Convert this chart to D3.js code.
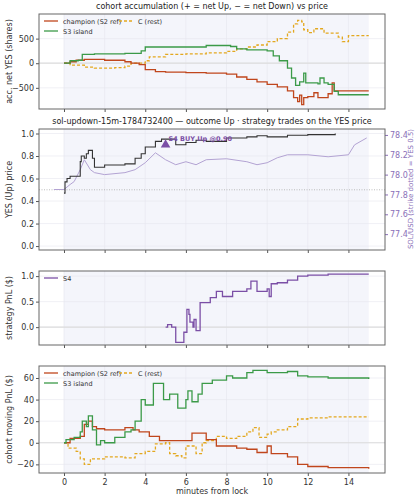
<!DOCTYPE html><html><head><meta charset="utf-8">
<script src="https://cdn.jsdelivr.net/npm/d3@7"></script>
<style>body{margin:0;background:#fff}text{font-family:"DejaVu Sans",sans-serif}</style></head><body>
<svg id="c" width="419" height="500"></svg>
<script>
const accChampion=[[0,0],[0.3,30],[0.6,60],[1,80],[2,60],[3,30],[3.3,0],[3.7,-30],[4,-130],[4.5,-170],[5,-180],[6,-190],[7,-200],[8,-220],[8.5,-280],[9,-330],[9.5,-380],[10,-430],[10.5,-480],[11,-560],[11.3,-700],[11.5,-780],[11.6,-650],[11.7,-840],[11.8,-700],[12,-680],[12.3,-600],[12.5,-700],[13,-620],[13.2,-400],[13.3,-560],[15,-560]];
const accS3=[[0,0],[0.3,50],[0.7,60],[0.9,180],[1.5,190],[3,200],[3.8,250],[4,330],[5,330],[7,360],[8.2,340],[8.5,290],[9,270],[10,250],[10.3,150],[10.6,50],[11,-100],[11.2,-300],[11.4,-450],[11.6,-380],[11.8,-200],[11.9,-400],[12.5,-420],[12.6,-300],[12.8,-400],[13,-430],[13.3,-570],[13.5,-640],[15,-640]];
const accC=[[0,0],[0.3,-40],[1,-80],[1.5,-100],[2.5,-90],[3,-60],[3.3,0],[4,50],[4.2,130],[5,180],[6,190],[7,210],[8,240],[8.5,290],[9,330],[9.5,370],[10,440],[10.5,500],[11,630],[11.3,800],[11.5,870],[11.7,840],[11.8,680],[12,620],[12.3,700],[12.8,610],[13.5,530],[13.7,440],[14,560],[15,560]];
const yesPrice=[[0,0.47],[0.05,0.57],[0.15,0.6],[0.3,0.62],[0.8,0.75],[0.85,0.8],[1,0.78],[1.1,0.82],[1.2,0.85],[1.4,0.78],[1.5,0.7],[2,0.72],[3,0.73],[3.5,0.78],[3.8,0.82],[4,0.88],[4.5,0.93],[4.8,0.95],[5.5,0.9],[6,0.92],[6.5,0.94],[7,0.93],[8,0.96],[9,0.97],[9.5,0.98],[10,0.97],[11,0.985],[12,0.99],[13.35,1.0]];
const solPrice=[[-0.5,77.85],[0,77.85],[0.3,77.9],[0.5,77.93],[0.8,78.05],[1,78.15],[1.3,78.05],[1.5,78.02],[2,78.0],[3,78.02],[3.5,78.05],[4,78.12],[4.5,78.22],[5,78.15],[5.5,78.1],[6,78.13],[6.5,78.1],[7,78.15],[8,78.16],[9,78.13],[9.5,78.1],[10,78.12],[10.5,78.17],[11,78.2],[12,78.2],[13,78.18],[14,78.2],[14.3,78.3],[14.9,78.37]];
const trades=[{t:5.0,p:0.90,label:"S4 BUY Up @0.90"}];
const pnlS4=[[5,0],[5.1,0.05],[5.3,0],[5.5,-0.3],[5.9,-0.1],[6.05,0.35],[6.15,0.25],[6.2,0.1],[6.35,0],[6.4,0.15],[6.5,-0.07],[6.7,0.48],[7.2,0.58],[7.5,0.7],[7.8,0.6],[8.3,0.7],[9,0.75],[9.2,0.9],[9.5,0.7],[10,0.75],[10.1,0.6],[10.2,0.85],[10.5,0.87],[11,0.92],[11.5,1.0],[12,1.02],[13,1.04],[15,1.04]];
const movS3=[[0,0],[0.1,3],[0.5,5],[0.8,10],[0.9,20],[1.1,15],[1.2,25],[1.4,12],[1.6,-2],[1.8,2],[2,0],[2.5,5],[3,10],[3.3,12],[3.5,20],[3.8,40],[4,35],[4.4,55],[4.9,40],[5.2,45],[5.6,32],[6,40],[6.1,48],[6.3,38],[6.6,45],[6.8,55],[7.3,58],[8,62],[8.3,60],[9,65],[9.3,67],[10,65],[11,66],[11.5,62],[12,61],[13,60],[15,59]];
const movChampion=[[0,0],[0.3,4],[0.8,6],[1,17],[1.2,20],[1.4,15],[1.6,13],[2,12],[3,14],[3.4,12],[3.7,10],[4.2,6],[4.7,2],[6.3,9],[7,3],[7.5,-3],[8.5,-5],[9,-6],[9.5,-9],[10,-3],[10.2,-10],[11,-13],[11.5,-20],[12,-22],[13,-23],[15,-24]];
const movC=[[0,0],[0.2,-5],[0.6,-8],[0.8,-15],[1,-20],[1.3,-15],[2,-13],[3,-14],[3.5,-10],[4,-8],[4.5,-1],[5,0],[5.2,-10],[5.5,-12],[5.8,-14],[6,-3],[6.5,-10],[6.8,0],[7,2],[7.5,6],[8,4],[8.5,6],[9,10],[9.3,14],[9.6,5],[10,8],[10.2,10],[10.5,12],[11,15],[11.5,22],[12,23],[13,24],[15,24]];
const xTicks=[0,2,4,6,8,10,12,14];

const RED="#c0461c",GREEN="#3b9a48",ORANGE="#e3a81f",PURPLE="#7b4fa6",LPURP="#b3a3d3";
const svg=d3.select("#c");
const L=39,R=385;
const x=d3.scaleLinear().domain([-1.23,15.8]).range([L,R]);
const line=(xs,ys)=>d3.line().x(d=>xs(d[0])).y(d=>ys(d[1])).curve(d3.curveStepAfter);

function panel(top,bot,dom,ticks,fmt,ylabel,showX){
  const y=d3.scaleLinear().domain(dom).range([bot,top]);
  const g=svg.append("g");
  g.append("rect").attr("x",x(0)).attr("width",x(15)-x(0)).attr("y",top).attr("height",bot-top).attr("fill","#f4f5fb");
  xTicks.forEach(t=>g.append("line").attr("x1",x(t)).attr("x2",x(t)).attr("y1",top).attr("y2",bot).attr("stroke","#e6e6ee").attr("stroke-width",0.6));
  ticks.forEach(t=>g.append("line").attr("x1",L).attr("x2",R).attr("y1",y(t)).attr("y2",y(t)).attr("stroke","#e6e6ee").attr("stroke-width",0.6));
  const ax=g.append("g").attr("transform",`translate(${L},0)`).call(d3.axisLeft(y).tickValues(ticks).tickFormat(fmt).tickSize(3).tickPadding(2));
  ax.select(".domain").remove();
  ax.selectAll("text").attr("font-size",8).attr("fill","#333").text(function(){return this.textContent.replace("-","−")});
  ax.selectAll("line").attr("stroke","#555");
  const xa=g.append("g").attr("transform",`translate(0,${bot})`).call(d3.axisBottom(x).tickValues(xTicks).tickSize(3).tickFormat(showX?d3.format("d"):""));
  xa.select(".domain").remove();xa.selectAll("line").attr("stroke","#555");
  xa.selectAll("text").attr("font-size",8).attr("fill","#333");
  g.append("text").attr("transform",`translate(${L-27},${(top+bot)/2}) rotate(-90)`).attr("text-anchor","middle").attr("font-size",8).attr("fill","#333").text(ylabel);
  return {g,y,top,bot};
}
function frame(p){p.g.append("rect").attr("x",L).attr("y",p.top).attr("width",R-L).attr("height",p.bot-p.top).attr("fill","none").attr("stroke","#666").attr("stroke-width",1);}
function zero(p){p.g.append("line").attr("x1",L).attr("x2",R).attr("y1",p.y(0)).attr("y2",p.y(0)).attr("stroke","#ddd").attr("stroke-width",1.2);}
function path(p,d,c,dash,w){p.g.append("path").attr("d",line(x,p.y)(d)).attr("fill","none").attr("stroke",c).attr("stroke-width",w||1.3).attr("stroke-dasharray",dash||null);}
function legend(p,items,ox,oy){items.forEach((it,i)=>{const cx=ox+it.col*75, cy=oy+it.row*10;
  p.g.append("line").attr("x1",cx).attr("x2",cx+14).attr("y1",cy).attr("y2",cy).attr("stroke",it.c).attr("stroke-width",1.3).attr("stroke-dasharray",it.dash||null);
  p.g.append("text").attr("x",cx+19).attr("y",cy+2.5).attr("font-size",6.5).attr("fill","#333").text(it.t);});}
function title(t,yy){svg.append("text").attr("x",(L+R)/2).attr("y",yy).attr("text-anchor","middle").attr("font-size",8).attr("fill","#222").text(t);}

// panel 1
const p1=panel(14,109,[-930,1000],[-500,0,500],d3.format("d"),"acc. net YES (shares)",false);
zero(p1);
path(p1,accC,ORANGE,"3,2");path(p1,accChampion,RED);path(p1,accS3,GREEN);
frame(p1);
legend(p1,[{t:"champion (S2 ref)",c:RED,col:0,row:0},{t:"C (rest)",c:ORANGE,dash:"3,2",col:1,row:0},{t:"S3 island",c:GREEN,col:0,row:1}],44,21);
title("cohort accumulation (+ = net Up, − = net Down) vs price",9);

// panel 2
const p2=panel(129,250,[-0.035,1.04],[0,0.2,0.4,0.6,0.8,1.0],d3.format(".1f"),"YES (Up) price",false);
const y2r=d3.scaleLinear().domain([77.24,78.46]).range([250,129]);
p2.g.append("line").attr("x1",L).attr("x2",R).attr("y1",p2.y(0.5)).attr("y2",p2.y(0.5)).attr("stroke","#aaa").attr("stroke-width",0.8).attr("stroke-dasharray","1,1.5");
p2.g.append("path").attr("d",d3.line().x(d=>x(d[0])).y(d=>y2r(d[1]))(solPrice)).attr("fill","none").attr("stroke",LPURP).attr("stroke-width",1);
path(p2,yesPrice,"#333",null,1.1);
trades.forEach(tr=>{p2.g.append("path").attr("d",d3.symbol(d3.symbolTriangle,40)()).attr("transform",`translate(${x(tr.t)},${p2.y(tr.p)})`).attr("fill",PURPLE);
 p2.g.append("text").attr("x",x(tr.t)+3).attr("y",p2.y(tr.p)-4).attr("font-size",6.5).attr("fill",PURPLE).attr("font-weight","bold").text(tr.label);});
const ar=p2.g.append("g").attr("transform",`translate(${R},0)`).call(d3.axisRight(y2r).tickValues([77.4,77.6,77.8,78.0,78.2,78.4]).tickFormat(d3.format(".1f")).tickSize(3).tickPadding(2));
ar.select(".domain").remove();ar.selectAll("text").attr("font-size",8).attr("fill","#8a6fb8");ar.selectAll("line").attr("stroke","#8a6fb8");
p2.g.append("text").attr("transform",`translate(${R+28},${189}) rotate(-90)`).attr("text-anchor","middle").attr("font-size",7).attr("fill","#8a6fb8").text("SOL/USD (strike dotted = YES 0.5)");
frame(p2);
title("sol-updown-15m-1784732400 — outcome Up · strategy trades on the YES price",124);

// panel 3
const p3=panel(271,345,[-0.35,1.1],[0,0.5,1.0],d3.format(".1f"),"strategy PnL ($)",false);
zero(p3);path(p3,pnlS4,PURPLE);frame(p3);
legend(p3,[{t:"S4",c:PURPLE,col:0,row:0}],44,278);

// panel 4
const p4=panel(366,473,[-28,71.1],[-20,0,20,40,60],d3.format("d"),"cohort moving PnL ($)",true);
zero(p4);path(p4,movC,ORANGE,"3,2");path(p4,movChampion,RED);path(p4,movS3,GREEN);frame(p4);
legend(p4,[{t:"champion (S2 ref)",c:RED,col:0,row:0},{t:"C (rest)",c:ORANGE,dash:"3,2",col:1,row:0},{t:"S3 island",c:GREEN,col:0,row:1}],44,373);
svg.append("text").attr("x",(L+R)/2).attr("y",494).attr("text-anchor","middle").attr("font-size",8).attr("fill","#333").text("minutes from lock");
</script></body></html>
